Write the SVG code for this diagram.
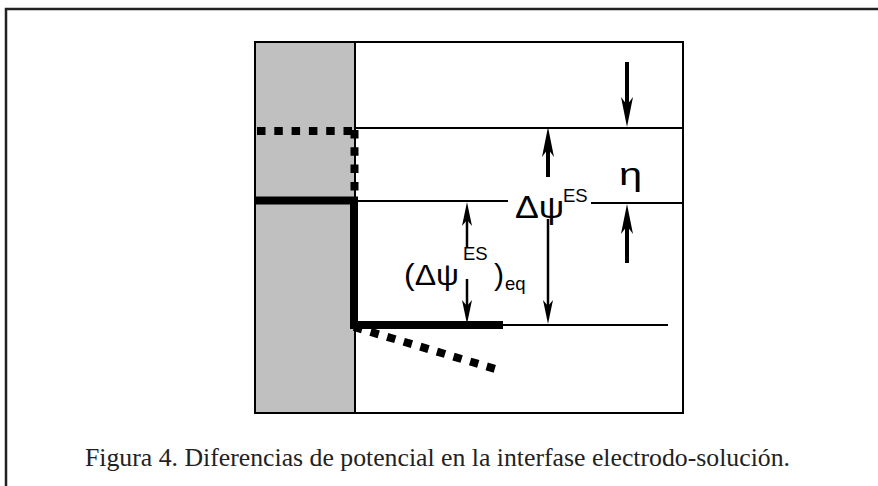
<svg xmlns="http://www.w3.org/2000/svg" width="878" height="486" viewBox="0 0 878 486">
<style>
.thin{stroke:#000;stroke-width:2;fill:none}
.thick{stroke:#000;stroke-width:8;fill:none;stroke-linejoin:miter}
.dot{stroke:#000;stroke-width:8;fill:none;stroke-dasharray:8.5 8.8}
.ab{stroke:#000;stroke-width:4;fill:none;marker-end:url(#big)}
.as{stroke:#000;stroke-width:2.5;fill:none;marker-end:url(#small)}
.lab{font-family:"Liberation Sans",Arial,sans-serif;fill:#000}
.cap{font-family:"Liberation Serif","Times New Roman",serif;font-size:25px;fill:#222}
</style>
<defs>
<marker id="big" markerUnits="userSpaceOnUse" markerWidth="32" markerHeight="14" viewBox="0 -7 32 14" refX="10" refY="0" orient="auto">
<path d="M0,-6 L30,0 L0,6 L8,0 Z" fill="#000"/>
</marker>
<marker id="small" markerUnits="userSpaceOnUse" markerWidth="26" markerHeight="12" viewBox="0 -6 26 12" refX="8" refY="0" orient="auto">
<path d="M0,-5 L24,0 L0,5 L6,0 Z" fill="#000"/>
</marker>
</defs>
<rect width="878" height="486" fill="#fff"/>
<g id="frame">
<path d="M6,486 V9 H878" stroke="#222" stroke-width="2.5" fill="none"/>
</g>
<g id="electrode">
<rect x="255" y="42" width="100" height="371" fill="#c0c0c0"/>
</g>
<g id="box">
<rect x="255" y="42" width="428" height="371" class="thin"/>
<line x1="355" y1="42" x2="355" y2="413" class="thin"/>
</g>
<g id="levels">
<line x1="355" y1="128" x2="683" y2="128" class="thin"/>
<line x1="355" y1="201" x2="508" y2="201" class="thin"/>
<line x1="591" y1="203" x2="683" y2="203" class="thin"/>
<line x1="503" y1="325" x2="668" y2="325" class="thin"/>
</g>
<g id="potential-eq">
<path d="M255,200.5 H354 V325 H503" class="thick"/>
</g>
<g id="potential-dotted">
<path d="M257,131 H352" class="dot"/>
<path d="M354.5,130 V192" class="dot"/>
<path d="M354,327 L494.8,368.8" class="dot"/>
</g>
<g id="connectors">
<line x1="627" y1="62" x2="627" y2="107" class="ab"/>
<line x1="548" y1="177" x2="548" y2="147" class="ab"/>
<line x1="627" y1="263" x2="627" y2="224" class="ab"/>
<line x1="548" y1="219" x2="548" y2="308" class="as"/>
<line x1="467" y1="247" x2="467" y2="218" class="as"/>
<line x1="467" y1="279" x2="467" y2="308" class="as"/>
</g>
<g id="label-dpsi">
<text class="lab" font-size="31" transform="translate(515,218) scale(1.15,1)">Δψ</text>
<text class="lab" x="563" y="202" font-size="18.5">ES</text>
</g>
<g id="label-eta">
<text class="lab" font-size="32" transform="translate(619,185) scale(1.3,1)">η</text>
</g>
<g id="label-dpsi-eq">
<text class="lab" font-size="30" transform="translate(404,285) scale(1.07,1)">(Δψ</text>
<text class="lab" x="463" y="260" font-size="18.5">ES</text>
<text class="lab" x="494" y="285" font-size="30">)</text>
<text class="lab" x="505" y="290" font-size="18.5">eq</text>
</g>
<g id="caption">
<text class="cap" x="85" y="466" textLength="705" lengthAdjust="spacingAndGlyphs">Figura 4. Diferencias de potencial en la interfase electrodo-solución.</text>
</g>
</svg>
